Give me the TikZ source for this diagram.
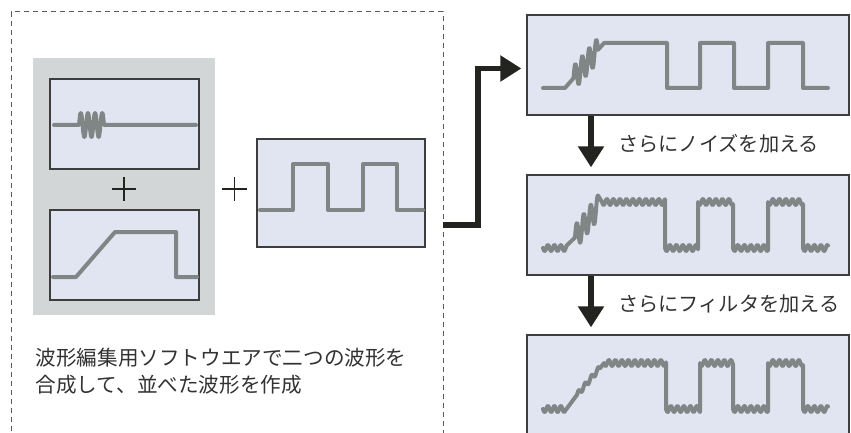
\documentclass[tikz,border=0pt]{standalone}
\usepackage{fontspec}
\newfontfamily\jp{Noto Sans CJK JP}
\usetikzlibrary{arrows.meta,calc}
\definecolor{boxfill}{RGB}{225,229,241}
\definecolor{boxline}{RGB}{60,62,62}
\definecolor{panel}{RGB}{211,214,214}
\definecolor{wavec}{RGB}{128,134,134}
\definecolor{arrowc}{RGB}{35,35,32}
\definecolor{textc}{RGB}{50,50,50}
\definecolor{dashc}{RGB}{90,90,90}
\tikzset{
  wbox/.style={draw=boxline, fill=boxfill, line width=1.3pt, inner sep=0pt},
  wave/.style={draw=wavec, line width=4pt, line cap=round, line join=round},
  bigarrow/.style={draw=arrowc, line width=5.5pt, -{Triangle[width=25pt,length=21pt]}},
  plusline/.style={draw=arrowc, line width=1.8pt},
  caption/.style={inner sep=0pt, text=textc, font=\jp\fontsize{20.6}{27}\selectfont},
  steplabel/.style={inner sep=0pt, text=textc, font=\jp\fontsize{20.2}{24}\selectfont},
  declare function={rA(\x)=88-45*(\x-565)/39; rB(\x)=248-46*(\x-567)/35; rC(\x)=409-46*(\x-565)/39;}
}
\begin{document}
\begin{tikzpicture}[x=1pt,y=-1pt]
\useasboundingbox (0,0) rectangle (851,433);
\clip (0,0) rectangle (851,433);

% dashed group
\node[draw=dashc, dash pattern=on 5pt off 4pt, line width=1pt, minimum width=432pt, minimum height=450pt, inner sep=0pt] (grp) at (227,237) {};
% grey panel
\node[fill=panel, minimum width=182pt, minimum height=257pt, inner sep=0pt] (panel) at (124,186.5) {};

% boxes
\node[wbox, minimum width=149pt, minimum height=90pt] (tl) at (124.5,124) {};
\node[wbox, minimum width=149pt, minimum height=90pt] (bl) at (124.5,255) {};
\node[wbox, minimum width=168pt, minimum height=108pt] (sq) at (341,193) {};
\node[wbox, minimum width=322pt, minimum height=100pt] (r1) at (688,65) {};
\node[wbox, minimum width=322pt, minimum height=100pt] (r2) at (688,225) {};
\node[wbox, minimum width=322pt, minimum height=110pt] (r3) at (688,390) {};

% plus signs
\draw[plusline] (112,189) -- (136,189) (124,177) -- (124,201);
\draw[plusline] (222,189) -- (247,189) (234.5,177) -- (234.5,201);

% waveform top-left: burst
\draw[wave] (54,125) -- (79,125) -- plot[domain=79:104,samples=120] (\x,{125-12*sin(360*(\x-79)/7.143)}) -- (196,125);
% waveform bottom-left: trapezoid
\draw[wave] (53,277) -- (76,277) -- (115,232) -- (176,232) -- (176,277) -- (197,277);
% square wave
\draw[wave] (260,210) -- (293,210) -- (293,164) -- (328,164) -- (328,210) -- (363,210) -- (363,164) -- (397,164) -- (397,210) -- (423,210);

% r1: combined
\draw[wave] (543,88) -- (565,88) -- (573.5,{rA(573.5)})
  -- plot[domain=573.5:598,samples=120] (\x,{rA(\x)-12*sin(360*(\x-573.5)/7)})
  -- (604,43) -- (667,43) -- (667,88) -- (700,88) -- (700,43) -- (734,43) -- (734,88)
  -- (768,88) -- (768,43) -- (803,43) -- (803,88) -- (828,88);

% r2: with noise
\draw[wave] plot[domain=543:567,samples=50] (\x,{248+3*sin(55.4*(\x-543))})
  -- (575,{rB(575)})
  -- plot[domain=575:598,samples=120] (\x,{rB(\x)-12*sin(360*(\x-575)/7)})
  -- plot[domain=602:665,samples=120] (\x,{202+3*sin(55.4*(\x-602))})
  -- plot[domain=665:698,samples=70] (\x,{248+3*sin(55.4*(\x-665))})
  -- plot[domain=698:733,samples=70] (\x,{202+3*sin(55.4*(\x-698))})
  -- plot[domain=733:768,samples=70] (\x,{248+3*sin(55.4*(\x-733))})
  -- plot[domain=768:803,samples=70] (\x,{202+3*sin(55.4*(\x-768))})
  -- plot[domain=803:828,samples=50] (\x,{248+3*sin(55.4*(\x-803))});

% r3: filtered
\draw[wave] plot[domain=543:565,samples=50] (\x,{409+3*sin(55.4*(\x-543))})
  -- (577,{rC(577)})
  -- plot[domain=577:600,samples=60] (\x,{rC(\x)-2.5*sin(55.4*(\x-577))})
  -- (604,363)
  -- plot[domain=604:666,samples=120] (\x,{363+3*sin(55.4*(\x-604))})
  -- plot[domain=666:700,samples=70] (\x,{409+3*sin(55.4*(\x-666))})
  -- plot[domain=700:733,samples=70] (\x,{363+3*sin(55.4*(\x-700))})
  -- plot[domain=733:768,samples=70] (\x,{409+3*sin(55.4*(\x-733))})
  -- plot[domain=768:803,samples=70] (\x,{363+3*sin(55.4*(\x-768))})
  -- plot[domain=803:828,samples=50] (\x,{409+3*sin(55.4*(\x-803))});

% texts
\node[caption, anchor=base west] (cap1) at (35.5,365.5) {波形編集用ソフトウエアで二つの波形を};
\node[caption, anchor=base west] (cap2) at (35.5,392.5) {合成して、並べた波形を作成};
\node[steplabel, anchor=base west] (lab1) at (618,152) {さらにノイズを加える};
\node[steplabel, anchor=base west] (lab2) at (618,311) {さらにフィルタを加える};

% arrows
\coordinate (ax) at (591,0);
\draw[bigarrow, shorten >=7pt] (ax |- r1.south) -- (ax |- r2.north);
\draw[bigarrow, shorten >=7pt] (ax |- r2.south) -- (ax |- r3.north);
\coordinate (start) at (443,225);
\coordinate (vx) at (478,0);
\draw[bigarrow, shorten >=5pt] (start) -- (start -| vx) |- ($(r1.west)+(0,3.5)$);
\end{tikzpicture}
\end{document}
